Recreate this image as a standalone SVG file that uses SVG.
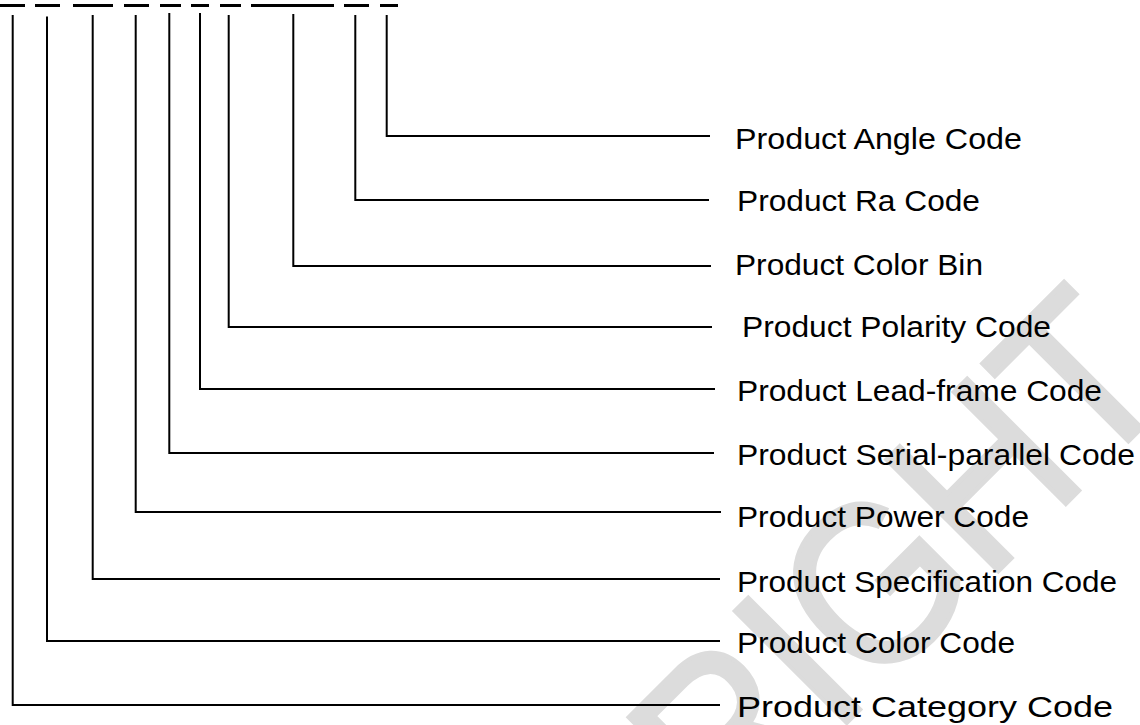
<svg xmlns="http://www.w3.org/2000/svg" width="1140" height="725" viewBox="0 0 1140 725">
<style>
.lbl{font-family:"Liberation Sans",Arial,sans-serif;font-size:30px;fill:#000}
.conn{fill:none;stroke:#000;stroke-width:2}
.ul{stroke:#000;stroke-width:3}
.wm{font-family:"Liberation Sans",Arial,sans-serif;font-size:205px;fill:#dcdcdc;stroke:#dcdcdc;stroke-width:4;stroke-linejoin:miter}
</style>
<rect width="1140" height="725" fill="#fff"/>
<g id="watermark">
<text class="wm" transform="translate(728.5,841) rotate(-45) scale(1,1.12)" x="0" y="0">RIGHT</text>
</g>
<g id="code-underlines">
<line class="ul" x1="0" y1="5.5" x2="25" y2="5.5"/>
<line class="ul" x1="35" y1="5.5" x2="60" y2="5.5"/>
<line class="ul" x1="73" y1="5.5" x2="113" y2="5.5"/>
<line class="ul" x1="124" y1="5.5" x2="149" y2="5.5"/>
<line class="ul" x1="160" y1="5.5" x2="181" y2="5.5"/>
<line class="ul" x1="191" y1="5.5" x2="209" y2="5.5"/>
<line class="ul" x1="220" y1="5.5" x2="241" y2="5.5"/>
<line class="ul" x1="251" y1="5.5" x2="334" y2="5.5"/>
<line class="ul" x1="344" y1="5.5" x2="369" y2="5.5"/>
<line class="ul" x1="380" y1="5.5" x2="398" y2="5.5"/>
</g>
<g id="connectors">
<path class="conn" d="M386.7,15 V136 H710"/>
<path class="conn" d="M355.3,15 V200 H709"/>
<path class="conn" d="M293.3,14 V266 H711"/>
<path class="conn" d="M228.7,15 V327 H712"/>
<path class="conn" d="M200,13 V389 H715"/>
<path class="conn" d="M169.3,13 V453 H714"/>
<path class="conn" d="M135.7,15 V512 H721"/>
<path class="conn" d="M92.7,15 V579 H720"/>
<path class="conn" d="M47,16.5 V641 H720"/>
<path class="conn" d="M12.7,15 V705 H720"/>
</g>
<g id="angle-code"><text class="lbl" x="735" y="149" textLength="287" lengthAdjust="spacingAndGlyphs">Product Angle Code</text></g>
<g id="ra-code"><text class="lbl" x="737" y="211" textLength="243" lengthAdjust="spacingAndGlyphs">Product Ra Code</text></g>
<g id="color-bin"><text class="lbl" x="735" y="275" textLength="248" lengthAdjust="spacingAndGlyphs">Product Color Bin</text></g>
<g id="polarity-code"><text class="lbl" x="742" y="337" textLength="309" lengthAdjust="spacingAndGlyphs">Product Polarity Code</text></g>
<g id="lead-frame-code"><text class="lbl" x="737" y="401" textLength="365" lengthAdjust="spacingAndGlyphs">Product Lead-frame Code</text></g>
<g id="serial-parallel-code"><text class="lbl" x="737" y="465" textLength="398" lengthAdjust="spacingAndGlyphs">Product Serial-parallel Code</text></g>
<g id="power-code"><text class="lbl" x="737" y="527" textLength="292" lengthAdjust="spacingAndGlyphs">Product Power Code</text></g>
<g id="specification-code"><text class="lbl" x="737" y="592" textLength="380" lengthAdjust="spacingAndGlyphs">Product Specification Code</text></g>
<g id="color-code"><text class="lbl" x="737" y="653" textLength="278" lengthAdjust="spacingAndGlyphs">Product Color Code</text></g>
<g id="category-code"><text class="lbl" x="737" y="717" textLength="376" lengthAdjust="spacingAndGlyphs">Product Category Code</text></g>
</svg>
